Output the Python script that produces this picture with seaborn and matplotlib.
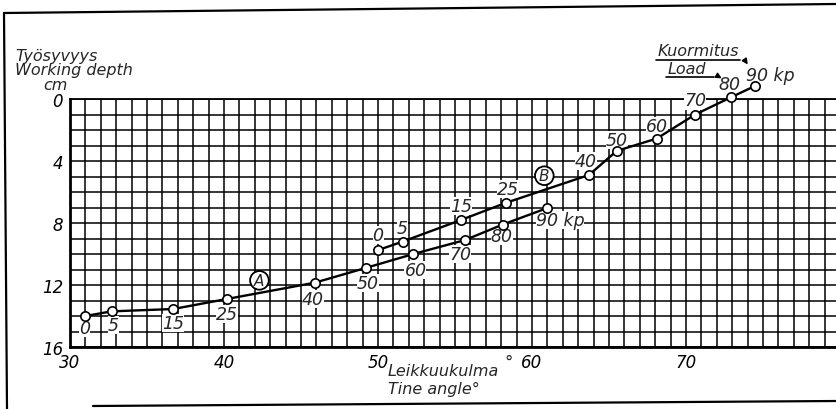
#working depth vs tine angle, two load curves A and B
import numpy as np
import pandas as pd
import seaborn as sns
import matplotlib.pyplot as plt
from matplotlib.lines import Line2D

#loads (kp) at the measured points
loads = [0, 5, 15, 25, 40, 50, 60, 70, 80, 90]
#curve A
angle_a = [31.0, 32.7, 36.7, 40.2, 45.9, 49.2, 52.3, 55.65, 58.1, 60.95]
depth_a = [14.0, 13.7, 13.55, 12.9, 11.85, 10.9, 10.0, 9.1, 8.1, 7.05]
#curve B
angle_b = [50.0, 51.6, 55.4, 58.3, 63.7, 65.5, 68.1, 70.6, 72.9, 74.5]
depth_b = [9.75, 9.2, 7.8, 6.7, 4.9, 3.35, 2.55, 1.0, -0.1, -0.85]

x_ticks = [30, 40, 50, 60, 70]
y_ticks = [0, 4, 8, 12, 16]

df = pd.DataFrame({
    "angle": angle_a + angle_b,
    "depth": depth_a + depth_b,
    "load": loads + loads,
    "curve": ["A"] * len(loads) + ["B"] * len(loads),
})

sns.set_style("white")
plt.rcParams['font.family'] = ['DejaVu Sans']
plt.rcParams['font.style'] = 'italic'

W, H = 836, 410
fig = plt.figure(figsize=(W / 100, H / 100), dpi=100)

def fx(px):
    return px / W

def fy(py):
    return 1 - py / H

ax = fig.add_axes([fx(70), fy(348), 770 / W, 248 / H])
ax.set_xlim(30, 80)
ax.set_ylim(16, 0)

#mm-paper style grid
ax.set_xticks(x_ticks)
ax.set_yticks(y_ticks)
ax.set_xticks(np.arange(30, 81, 1), minor=True)
ax.set_yticks(np.arange(0, 17, 1), minor=True)
ax.grid(which="both", color="black", lw=1.1)
ax.set_axisbelow(True)
ax.tick_params(which="both", length=0, labelsize=12, colors="black")
ax.tick_params(axis="x", pad=4)
ax.tick_params(axis="y", pad=5)
for s in ["left", "bottom"]:
    ax.spines[s].set_linewidth(2.0)
    ax.spines[s].set_color("black")
ax.spines["top"].set_linewidth(1.3)
ax.spines["top"].set_color("black")

sns.lineplot(data=df, x="angle", y="depth", hue="curve", palette=["black", "black"],
             sort=False, lw=1.7, legend=False, ax=ax, clip_on=False, zorder=4)
sns.scatterplot(data=df, x="angle", y="depth", marker="o", s=45, color="white",
                edgecolor="black", linewidth=1.2, legend=False, ax=ax, clip_on=False, zorder=5)
ax.set_xlabel("")
ax.set_ylabel("")

#label offsets in pixels (right, down)
off_a = [(-1, 12), (2, 14), (0, 14), (0, 15), (-2, 16), (2, 15), (2, 16), (-5, 14), (-1, 11), (-11, 12)]
off_b = [(0, -15), (0, -14), (0, -14), (2, -14), (-3, -14), (0, -11), (0, -13), (0, -14), (-1, -13), (-9, -11)]

for xs, ys, offs in [(angle_a, depth_a, off_a), (angle_b, depth_b, off_b)]:
    for i, ld in enumerate(loads):
        dx, dy = offs[i]
        txt = str(ld)
        ha = "center"
        if ld == 90:
            txt = "90 kp"
            ha = "left"
        ax.annotate(txt, (xs[i], ys[i]), xytext=(dx * 0.72, -dy * 0.72), textcoords="offset points",
                    ha=ha, va="center", fontsize=12.5, annotation_clip=False, zorder=3,
                    bbox=dict(boxstyle="square,pad=0.0", fc="white", ec="none"))

#circled curve letters
ax.text(42.3, 11.7, "A", ha="center", va="center", fontsize=11, zorder=6,
        bbox=dict(boxstyle="circle,pad=0.12", fc="white", ec="black", lw=1.3))
ax.text(60.8, 4.95, "B", ha="center", va="center", fontsize=11, zorder=6,
        bbox=dict(boxstyle="circle,pad=0.12", fc="white", ec="black", lw=1.3))

#axis titles
fig.text(fx(15), fy(56), "Työsyvyys", ha="left", va="center", fontsize=11.5)
fig.text(fx(15), fy(71), "Working depth", ha="left", va="center", fontsize=11.5)
fig.text(fx(43), fy(86), "cm", ha="left", va="center", fontsize=11.5)
fig.text(fx(388), fy(372), "Leikkuukulma", ha="left", va="center", fontsize=11.5)
fig.text(fx(509), fy(363), "°", ha="center", va="center", fontsize=12)
fig.text(fx(388), fy(389), "Tine angle°", ha="left", va="center", fontsize=11.5)

#load legend with underlines and arrows
fig.text(fx(658), fy(52), "Kuormitus", ha="left", va="center", fontsize=11.5)
fig.text(fx(668), fy(69), "Load", ha="left", va="center", fontsize=11.5)
fig.add_artist(Line2D([fx(656), fx(740)], [fy(61), fy(61)], color="black", lw=1.2))
fig.add_artist(Line2D([fx(666), fx(714)], [fy(77.5), fy(77.5)], color="black", lw=1.2))
fig.add_artist(plt.Annotation("", xy=(fx(749), fy(68)), xytext=(fx(740), fy(61)),
                              xycoords="figure fraction", textcoords="figure fraction",
                              arrowprops=dict(arrowstyle="-|>", color="black", lw=1.1,
                                              mutation_scale=8, connectionstyle="arc3,rad=-0.3")))
fig.add_artist(plt.Annotation("", xy=(fx(724), fy(81)), xytext=(fx(714), fy(77.5)),
                              xycoords="figure fraction", textcoords="figure fraction",
                              arrowprops=dict(arrowstyle="-|>", color="black", lw=1.1,
                                              mutation_scale=8, connectionstyle="arc3,rad=-0.2")))

#outer frame of the scanned figure
fig.add_artist(Line2D([fx(4), fx(836)], [fy(14), fy(5)], color="black", lw=1.6))
fig.add_artist(Line2D([fx(4), fx(7)], [fy(14), fy(410)], color="black", lw=1.6))
fig.add_artist(Line2D([fx(93), fx(836)], [fy(407), fy(402)], color="black", lw=1.6))

fig.savefig("out.png", dpi=100)
